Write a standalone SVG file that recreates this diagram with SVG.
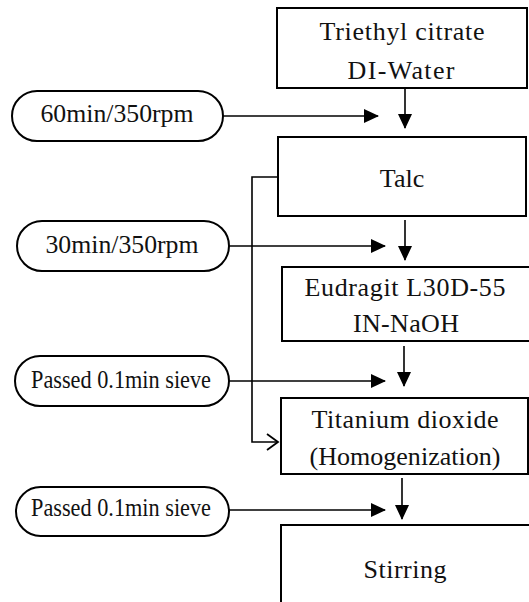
<svg xmlns="http://www.w3.org/2000/svg" width="529" height="602" viewBox="0 0 529 602">
<style>
.box{fill:#fff;stroke:#000;stroke-width:2}
.pill{fill:#fff;stroke:#000;stroke-width:2}
.t{font-family:"Liberation Serif","Times New Roman",serif;font-size:26px;fill:#111;text-anchor:middle}
.s{font-family:"Liberation Serif","Times New Roman",serif;font-size:25px;fill:#111;text-anchor:middle}
.c{stroke:#000;stroke-width:1.6;fill:none}
</style>
<defs>
<marker id="ah" markerWidth="15" markerHeight="14" refX="14" refY="7" orient="auto" markerUnits="userSpaceOnUse">
<path d="M0,0 L15,7 L0,14 Z" fill="#000"/>
</marker>
<marker id="oh" markerWidth="14" markerHeight="18" refX="12" refY="9" orient="auto" markerUnits="userSpaceOnUse">
<path d="M1,1 L12,9 L1,17" fill="none" stroke="#000" stroke-width="1.8"/>
</marker>
</defs>
<rect width="529" height="602" fill="#fff"/>
<g id="connectors">
<line class="c" x1="405" y1="88" x2="405" y2="128" marker-end="url(#ah)"/>
<line class="c" x1="223" y1="116" x2="378" y2="116" marker-end="url(#ah)"/>
<line class="c" x1="405" y1="220" x2="405" y2="260" marker-end="url(#ah)"/>
<line class="c" x1="229" y1="246" x2="385" y2="246" marker-end="url(#ah)"/>
<line class="c" x1="404" y1="346" x2="404" y2="386" marker-end="url(#ah)"/>
<line class="c" x1="229" y1="381" x2="385" y2="381" marker-end="url(#ah)"/>
<line class="c" x1="402" y1="478" x2="402" y2="519" marker-end="url(#ah)"/>
<line class="c" x1="229" y1="510" x2="385" y2="510" marker-end="url(#ah)"/>
<polyline class="c" points="278,177 252,177 252,442 278,442" marker-end="url(#oh)"/>
</g>
<g id="n1">
<rect class="box" x="277" y="8" width="250" height="80"/>
<text class="t" x="402" y="40" textLength="165" lengthAdjust="spacing">Triethyl citrate</text>
<text class="t" x="401" y="79" textLength="107" lengthAdjust="spacing">DI-Water</text>
</g>
<g id="p1">
<rect class="pill" x="12" y="91" width="211" height="50" rx="25" ry="25"/>
<text class="t" x="117" y="122" textLength="153" lengthAdjust="spacingAndGlyphs">60min/350rpm</text>
</g>
<g id="n2">
<rect class="box" x="278" y="137" width="248" height="79"/>
<text class="t" x="402" y="187">Talc</text>
</g>
<g id="p2">
<rect class="pill" x="17" y="221" width="212" height="50" rx="25" ry="25"/>
<text class="t" x="122" y="253" textLength="153" lengthAdjust="spacingAndGlyphs">30min/350rpm</text>
</g>
<g id="n3">
<rect class="box" x="282" y="267" width="260" height="74"/>
<text class="t" x="405" y="296" textLength="201" lengthAdjust="spacing">Eudragit L30D-55</text>
<text class="t" x="406" y="332" textLength="106" lengthAdjust="spacing">IN-NaOH</text>
</g>
<g id="p3">
<rect class="pill" x="15" y="356" width="214" height="50" rx="25" ry="25"/>
<text class="s" x="121" y="388" textLength="180" lengthAdjust="spacingAndGlyphs">Passed 0.1min sieve</text>
</g>
<g id="n4">
<rect class="box" x="281" y="398" width="247" height="76"/>
<text class="t" x="405" y="428" textLength="187" lengthAdjust="spacing">Titanium dioxide</text>
<text class="t" x="405" y="465" textLength="191" lengthAdjust="spacing">(Homogenization)</text>
</g>
<g id="p4">
<rect class="pill" x="16" y="487" width="213" height="49" rx="24.5" ry="24.5"/>
<text class="s" x="121" y="516" textLength="180" lengthAdjust="spacingAndGlyphs">Passed 0.1min sieve</text>
</g>
<g id="n5">
<rect class="box" x="281" y="525" width="260" height="100"/>
<text class="t" x="405" y="578" textLength="83" lengthAdjust="spacing">Stirring</text>
</g>
</svg>
